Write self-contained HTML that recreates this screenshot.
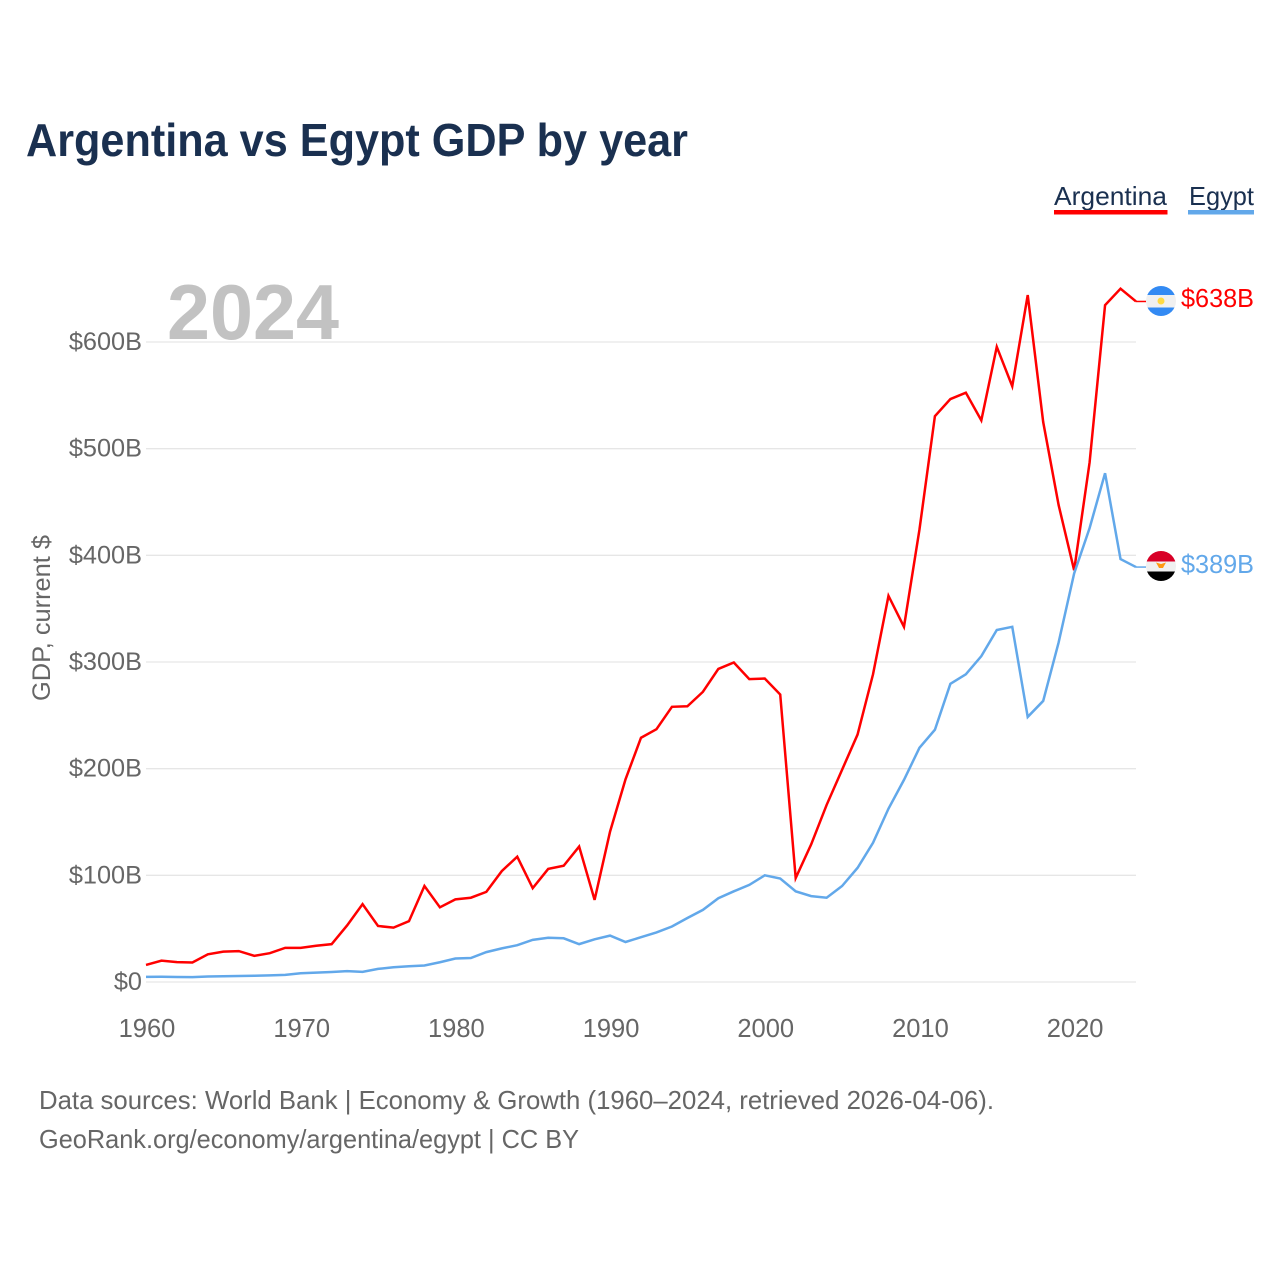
<!DOCTYPE html>
<html lang="en">
<head>
<meta charset="utf-8">
<title>Argentina vs Egypt GDP by year</title>
<style>
html,body{margin:0;padding:0;background:#fff;}
svg{display:block;}
text{font-family:"Liberation Sans",sans-serif;}
</style>
</head>
<body>
<svg id="chart" width="1280" height="1280" viewBox="0 0 1280 1280" xmlns="http://www.w3.org/2000/svg">
  <rect width="1280" height="1280" fill="#fff"/>
  <text x="26" y="156" font-size="46" font-weight="700" fill="#1a3050" textLength="662" lengthAdjust="spacingAndGlyphs">Argentina vs Egypt GDP by year</text>

  <g>
    <text x="1054" y="205" font-size="26" fill="#1a3050" textLength="113" lengthAdjust="spacingAndGlyphs">Argentina</text>
    <rect x="1054" y="210" width="113.500" height="4.500" fill="#ff0000"/>
  </g>
  <g>
    <text x="1189" y="205" font-size="26" fill="#1a3050" textLength="65" lengthAdjust="spacingAndGlyphs">Egypt</text>
    <rect x="1188" y="210" width="66" height="4.500" fill="#62a8ea"/>
  </g>

  <text x="167" y="339" font-size="78" font-weight="700" fill="#c2c2c2" textLength="172" lengthAdjust="spacingAndGlyphs">2024</text>

  <g id="grid"></g>
  <g id="yticks"></g>
  <g id="xticks"></g>

  <text transform="translate(50,618) rotate(-90)" text-anchor="middle" font-size="25" fill="#666" textLength="166" lengthAdjust="spacingAndGlyphs">GDP, current $</text>

  <path id="line-argentina" fill="none" stroke="#ff0000" stroke-width="2.500" stroke-linejoin="miter"/>
  <path id="line-egypt" fill="none" stroke="#62a8ea" stroke-width="2.500" stroke-linejoin="miter"/>
  <line id="leader-argentina" stroke="#ff0000" stroke-width="1.500"/>
  <line id="leader-egypt" stroke="#62a8ea" stroke-width="1.500"/>

  <defs>
    <clipPath id="clip-ar"><circle cx="1161" cy="301" r="15"/></clipPath>
    <clipPath id="clip-eg"><circle cx="1161" cy="566" r="15"/></clipPath>
  </defs>
  <g id="flag-argentina" clip-path="url(#clip-ar)">
    <rect x="1146" y="286" width="30" height="9" fill="#338af3"/>
    <rect x="1146" y="295" width="30" height="12.500" fill="#f0f0f0"/>
    <rect x="1146" y="307.500" width="30" height="9" fill="#338af3"/>
    <circle cx="1161" cy="301" r="3.500" fill="#ffda44"/>
  </g>
  <g id="flag-egypt" clip-path="url(#clip-eg)">
    <rect x="1146" y="551" width="30" height="10.500" fill="#d80027"/>
    <rect x="1146" y="561.500" width="30" height="10" fill="#f0f0f0"/>
    <rect x="1146" y="571.500" width="30" height="10" fill="#000"/>
    <path d="M1156 562.500 L1161 564 L1166 562.500 L1164 566 L1163 568 L1159 568 L1158 566 Z" fill="#ff9811"/>
  </g>

  <text x="1181" y="307" font-size="25.500" fill="#ff0000" textLength="73" lengthAdjust="spacingAndGlyphs">$638B</text>
  <text x="1181" y="573" font-size="25.500" fill="#62a8ea" textLength="73" lengthAdjust="spacingAndGlyphs">$389B</text>

  <text x="39" y="1109" font-size="26" fill="#666" textLength="955" lengthAdjust="spacingAndGlyphs">Data sources: World Bank | Economy &amp; Growth (1960–2024, retrieved 2026-04-06).</text>
  <text x="39" y="1148" font-size="26" fill="#666" textLength="540" lengthAdjust="spacingAndGlyphs">GeoRank.org/economy/argentina/egypt | CC BY</text>
</svg>
<script>
var years = [1960,1961,1962,1963,1964,1965,1966,1967,1968,1969,1970,1971,1972,1973,1974,1975,1976,1977,1978,1979,1980,1981,1982,1983,1984,1985,1986,1987,1988,1989,1990,1991,1992,1993,1994,1995,1996,1997,1998,1999,2000,2001,2002,2003,2004,2005,2006,2007,2008,2009,2010,2011,2012,2013,2014,2015,2016,2017,2018,2019,2020,2021,2022,2023,2024];
var argentinaGdp = [16,20,18.6,18.3,26,28.5,29,24.5,27,32,32,34,35.5,53,73,52.5,51,57,90,70,77.5,79,84.5,104,117.5,88,106,109,127,77,141,190,229,237,258,258.5,272,293.5,299.5,284,284.5,269.5,97.5,129,166,199,232,288.5,362,333,424,530.5,546.5,552.5,526.5,595.5,558.5,644,525,447,386,487,634.5,650,638];
var egyptGdp = [4.8,4.9,4.7,4.6,5.2,5.4,5.6,5.9,6.2,6.7,8.2,8.8,9.4,10.2,9.5,12.3,13.8,14.8,15.5,18.5,22,22.5,28,31.5,34.5,39.5,41.5,41,35.5,40,43.5,37.5,42,46.5,52,60,67.6,78.5,85,91,100,97,85,80.5,79,90,107,130.5,162.5,189.5,219.5,236.5,279.5,288.5,305.5,330,333,248.5,263.5,318.5,383,425.5,477,396.5,389];
var yTickValues = [0,100,200,300,400,500,600];
var yTickLabels = ["$0","$100B","$200B","$300B","$400B","$500B","$600B"];
var xTickValues = [1960,1970,1980,1990,2000,2010,2020];
var xTickLabels = ["1960","1970","1980","1990","2000","2010","2020"];

var SVG_NS = "http://www.w3.org/2000/svg";
var X0 = 146, X1 = 1136, Y0 = 982, Y600 = 342, LEADER_END = 1146;
function xScale(year) { return X0 + (year - 1960) * (X1 - X0) / (2024 - 1960); }
function yScale(value) { return Y0 - value * (Y0 - Y600) / 600; }
function linePath(values) {
  return values.map(function (v, i) {
    return (i ? "L" : "M") + xScale(years[i]).toFixed(2) + " " + yScale(v).toFixed(2);
  }).join(" ");
}
function setLeader(id, values) {
  var last = values[values.length - 1];
  var el = document.getElementById(id);
  el.setAttribute("x1", xScale(years[years.length - 1]));
  el.setAttribute("x2", LEADER_END);
  el.setAttribute("y1", yScale(last));
  el.setAttribute("y2", yScale(last));
}

document.getElementById("line-argentina").setAttribute("d", linePath(argentinaGdp));
document.getElementById("line-egypt").setAttribute("d", linePath(egyptGdp));
setLeader("leader-argentina", argentinaGdp);
setLeader("leader-egypt", egyptGdp);

var gridGroup = document.getElementById("grid");
var yGroup = document.getElementById("yticks");
yTickValues.forEach(function (v, i) {
  var ln = document.createElementNS(SVG_NS, "line");
  
  
  ln.setAttribute("x1", X0);
  ln.setAttribute("x2", X1);
  ln.setAttribute("y1", yScale(v));
  ln.setAttribute("y2", yScale(v));
  ln.setAttribute("stroke", "#e6e6e6");
  ln.setAttribute("stroke-width", "1.3");
  gridGroup.appendChild(ln);

  var t = document.createElementNS(SVG_NS, "text");
  
  
  t.setAttribute("x", 142);
  t.setAttribute("y", yScale(v) + 8);
  t.setAttribute("text-anchor", "end");
  t.setAttribute("font-size", "25.3");
  t.setAttribute("fill", "#666");
  t.textContent = yTickLabels[i];
  yGroup.appendChild(t);
});

var xGroup = document.getElementById("xticks");
xTickValues.forEach(function (v, i) {
  var t = document.createElementNS(SVG_NS, "text");
  
  
  t.setAttribute("x", xScale(v) + 1);
  t.setAttribute("y", 1037);
  t.setAttribute("text-anchor", "middle");
  t.setAttribute("font-size", "25.5");
  t.setAttribute("fill", "#666");
  t.textContent = xTickLabels[i];
  xGroup.appendChild(t);
});
</script>
</body>
</html>
